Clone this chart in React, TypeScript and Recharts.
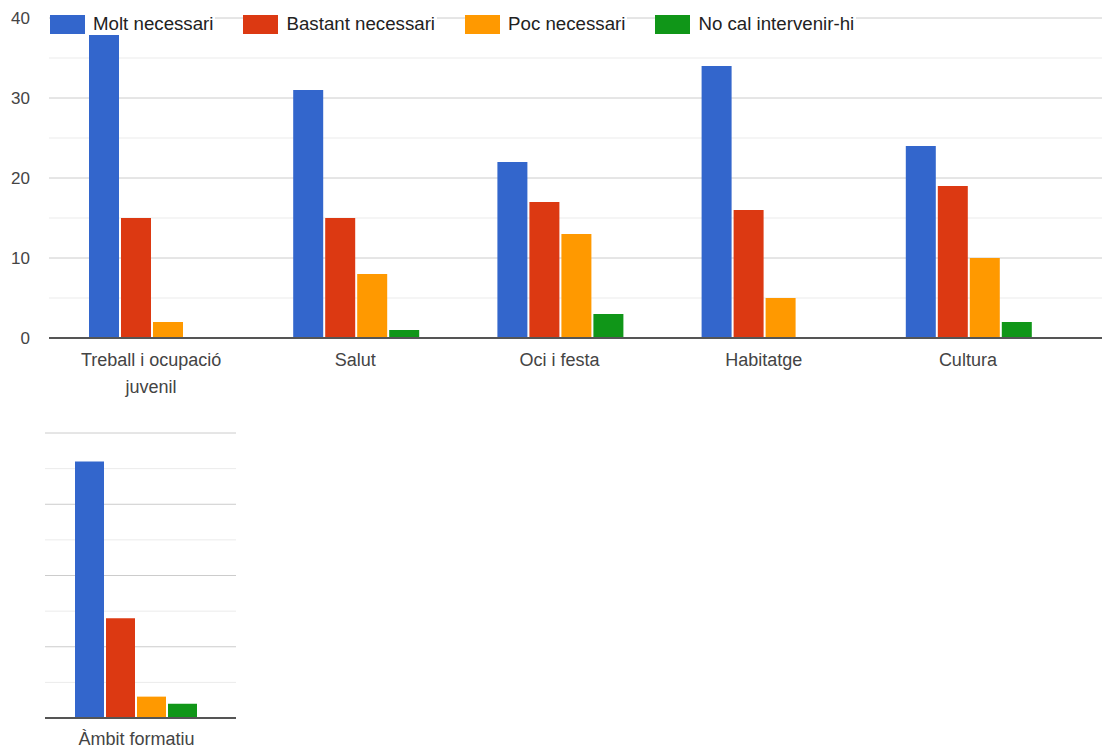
import { Bar, BarChart, CartesianGrid, Legend, Text, XAxis, YAxis } from "recharts";

const categories = [
  "Treball i ocupació juvenil",
  "Salut",
  "Oci i festa",
  "Habitatge",
  "Cultura",
  "Àmbit formatiu",
];
const moltNecessari = [38, 31, 22, 34, 24, 36];
const bastantNecessari = [15, 15, 17, 16, 19, 14];
const pocNecessari = [2, 8, 13, 5, 10, 3];
const noCalIntervenir = [0, 1, 3, 0, 2, 2];

const seriesKeys = ["molt", "bastant", "poc", "noCal"];
const seriesNames = ["Molt necessari", "Bastant necessari", "Poc necessari", "No cal intervenir-hi"];
const seriesColors = ["#3366cc", "#dc3912", "#ff9900", "#109618"];
const majorTicks = [0, 10, 20, 30, 40];
const minorTicks = [5, 15, 25, 35];

const rows = categories.map((name, i) => ({
  name,
  molt: moltNecessari[i],
  bastant: bastantNecessari[i],
  poc: pocNecessari[i],
  noCal: noCalIntervenir[i],
}));
const topRows = rows.slice(0, 5);
const bottomRows = rows.slice(5);

const FONT = '"Liberation Sans", Arial, sans-serif';

function CategoryTick(props: any) {
  const { x, y, payload } = props;
  return (
    <Text
      x={x}
      y={y}
      width={160}
      textAnchor="middle"
      verticalAnchor="start"
      lineHeight={27}
      fontSize={18}
      fontFamily={FONT}
      fill="#444"
    >
      {payload.value}
    </Text>
  );
}

function LegendContent() {
  return (
    <div style={{ display: "flex", alignItems: "center", fontFamily: FONT, fontSize: 18.7, color: "#222" }}>
      {seriesNames.map((n, i) => (
        <div
          key={n}
          style={{ display: "flex", alignItems: "center", background: "#fff", marginRight: 28, paddingRight: 2 }}
        >
          <span style={{ width: 35, height: 19, background: seriesColors[i], marginRight: 8, display: "inline-block" }} />
          <span>{n}</span>
        </div>
      ))}
    </div>
  );
}

function bars() {
  return seriesKeys.map((k, i) => (
    <Bar key={k} dataKey={k} name={seriesNames[i]} fill={seriesColors[i]} isAnimationActive={false} />
  ));
}

export default function App() {
  return (
    <div style={{ position: "absolute", left: 0, top: 0, width: 1102, height: 749, background: "#fff", fontFamily: FONT }}>
      <BarChart
        width={1102}
        height={420}
        data={topRows}
        margin={{ top: 18, right: 0, bottom: 0, left: 0 }}
        barCategoryGap={40}
        barGap={2}
      >
        <CartesianGrid vertical={false} horizontalValues={minorTicks} stroke="#ebebeb" />
        <CartesianGrid vertical={false} horizontalValues={majorTicks} stroke="#cccccc" />
        <XAxis
          dataKey="name"
          height={82}
          interval={0}
          padding={{ left: 0, right: 32 }}
          tickLine={false}
          tickSize={0}
          tickMargin={15}
          axisLine={{ stroke: "#555", strokeWidth: 2 }}
          tick={<CategoryTick />}
        />
        <YAxis
          width={49}
          domain={[0, 40]}
          ticks={majorTicks}
          tickLine={false}
          axisLine={false}
          tickSize={0}
          tickMargin={19}
          tick={{ fill: "#444", fontSize: 17, fontFamily: FONT }}
        />
        <Legend
          layout="horizontal"
          verticalAlign="middle"
          align="center"
          content={<LegendContent />}
          wrapperStyle={{ top: 13, left: 50, width: "auto", height: "auto" }}
        />
        {bars()}
      </BarChart>
      <div style={{ position: "absolute", left: 0, top: 420 }}>
        <BarChart
          width={236}
          height={329}
          data={bottomRows}
          margin={{ top: 13, right: 0, bottom: 0, left: 45 }}
          barCategoryGap={30}
          barGap={2}
        >
          <CartesianGrid vertical={false} horizontalValues={minorTicks} stroke="#ebebeb" />
          <CartesianGrid vertical={false} horizontalValues={majorTicks} stroke="#cccccc" />
          <XAxis
            dataKey="name"
            height={31}
            interval={0}
            padding={{ left: 0, right: 8 }}
            tickLine={false}
            tickSize={0}
            tickMargin={14}
            axisLine={{ stroke: "#555", strokeWidth: 2 }}
            tick={<CategoryTick />}
          />
          <YAxis hide domain={[0, 40]} ticks={majorTicks} />
          {bars()}
        </BarChart>
      </div>
    </div>
  );
}
